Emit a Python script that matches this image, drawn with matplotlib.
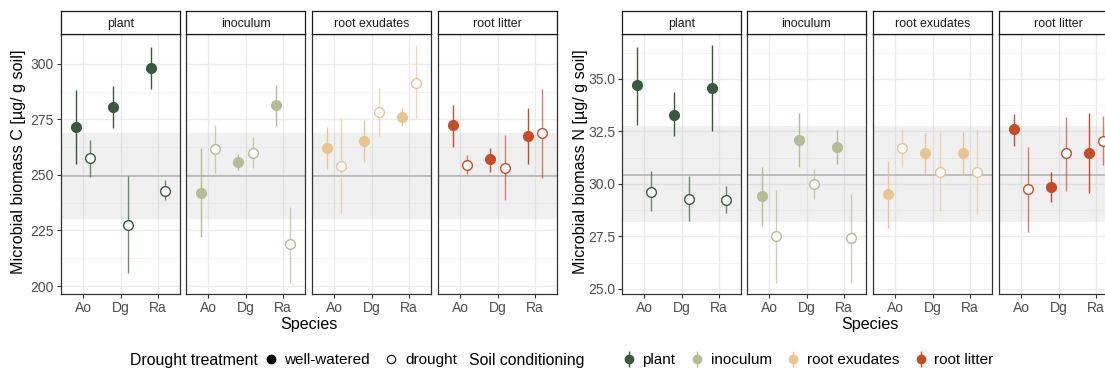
import numpy as np
import matplotlib
matplotlib.use("Agg")
import matplotlib.pyplot as plt
from matplotlib.lines import Line2D

plt.rcParams['font.family'] = ['Liberation Sans', 'DejaVu Sans']

species = ["Ao", "Dg", "Ra"]
conditions = ["plant", "inoculum", "root exudates", "root litter"]
colors = ["#385a3c", "#b3bd93", "#e9c68f", "#c84b25"]

# microbial biomass C: rows = soil conditioning, cols = species
c_ww = [[271.8, 280.6, 298.2], [242.0, 256.0, 281.5], [262.3, 265.2, 276.3], [272.4, 257.1, 267.6]]
c_ww_lo = [[254.8, 271.0, 288.6], [222.2, 252.1, 272.1], [252.6, 256.0, 272.2], [262.8, 251.5, 254.8]]
c_ww_hi = [[288.3, 290.1, 307.7], [262.3, 259.3, 290.5], [271.8, 274.8, 280.0], [281.4, 262.2, 280.3]]
c_dr = [[257.8, 227.5, 242.9], [261.7, 260.1, 218.8], [254.2, 278.4, 291.6], [254.7, 253.3, 268.8]]
c_dr_lo = [[249.2, 205.7, 238.6], [250.8, 253.0, 201.5], [232.7, 267.6, 275.1], [250.3, 238.7, 248.5]]
c_dr_hi = [[265.6, 249.5, 247.7], [272.7, 267.0, 235.7], [275.8, 289.3, 308.1], [259.0, 268.0, 288.9]]
c_ref = [230.2, 249.5, 268.9]   # low, mean, high of reference band

# microbial biomass N
n_ww = [[34.70, 33.30, 34.55], [29.43, 32.09, 31.77], [29.52, 31.48, 31.48], [32.61, 29.86, 31.48]]
n_ww_lo = [[32.83, 32.28, 32.52], [28.01, 30.83, 30.96], [27.91, 30.54, 30.48], [31.82, 29.16, 29.55]]
n_ww_hi = [[36.50, 34.38, 36.61], [30.83, 33.39, 32.55], [31.11, 32.42, 32.47], [33.34, 30.56, 33.39]]
n_dr = [[29.62, 29.30, 29.25], [27.53, 30.02, 27.44], [31.72, 30.59, 30.56], [29.76, 31.45, 32.05]]
n_dr_lo = [[28.71, 28.25, 28.63], [25.30, 29.30, 25.29], [30.83, 28.73, 28.55], [27.72, 29.67, 30.88]]
n_dr_hi = [[30.61, 30.38, 29.90], [29.73, 30.70, 29.54], [32.64, 32.47, 32.61], [31.77, 33.17, 33.22]]
n_ref = [28.2, 30.45, 32.75]

W, H = 1105, 370
fig = plt.figure(figsize=(W / 100, H / 100), dpi=100)

def px_axes(x0, x1, y0, y1):
    # pixel box (top-left origin) -> figure fraction
    return fig.add_axes([x0 / W, (H - y1) / H, (x1 - x0) / W, (y1 - y0) / H])

def draw_block(xoff, ww, ww_lo, ww_hi, dr, dr_lo, dr_hi, ref, ylim, major, minor, ylabel, fmt):
    panel_x = [61, 186, 312, 438]
    pw = 119
    x = np.arange(len(species))
    d = 0.19
    for k, cond in enumerate(conditions):
        x0 = panel_x[k] + xoff
        ax = px_axes(x0, x0 + pw, 34, 294)
        col = colors[k]
        ax.axhspan(ref[0], ref[2], color="#7f7f7f", alpha=0.11, lw=0, zorder=1)
        ax.axhline(ref[1], color="#b0b0b0", lw=1.1, zorder=1.5)
        ax.vlines(x - d, ww_lo[k], ww_hi[k], color=col, lw=1.0, zorder=3)
        ax.plot(x - d, ww[k], 'o', color=col, ms=7, zorder=4)
        ax.vlines(x + d, dr_lo[k], dr_hi[k], color=col, lw=1.0, alpha=0.7, zorder=3)
        ax.plot(x + d, dr[k], 'o', mfc="white", mec=col, mew=1.0, ms=7, zorder=4)
        ax.set_xlim(-0.6, 2.6)
        ax.set_ylim(*ylim)
        ax.set_xticks(x)
        ax.set_xticklabels(species)
        ax.set_yticks(major)
        ax.set_yticks(minor, minor=True)
        ax.grid(True, which="major", color="#ebebeb", lw=1.0, zorder=0)
        ax.grid(True, which="minor", axis="y", color="#f2f2f2", lw=0.6, zorder=0)
        ax.set_axisbelow(True)
        ax.tick_params(axis="both", which="major", length=3, width=0.8, color="#333333",
                       labelcolor="#4d4d4d", labelsize=10, pad=2)
        ax.tick_params(axis="y", which="minor", length=0)
        if k == 0:
            ax.set_yticklabels([fmt.format(v) for v in major])
        else:
            ax.tick_params(axis="y", which="both", left=False, labelleft=False)
        for s in ax.spines.values():
            s.set_color("#333333")
            s.set_linewidth(0.9)
        st = px_axes(x0, x0 + pw, 11, 34)
        st.set_xticks([])
        st.set_yticks([])
        st.set_facecolor("white")
        for s in st.spines.values():
            s.set_color("#1a1a1a")
            s.set_linewidth(0.9)
        st.text(0.5, 0.45, cond, ha="center", va="center", fontsize=8.9, color="#1a1a1a",
                transform=st.transAxes)
    fig.text((19 + xoff) / W, (H - 162) / H, ylabel, rotation=90, ha="center", va="center",
             fontsize=11.6)
    fig.text((309 + xoff) / W, (H - 325) / H, "Species", ha="center", va="center", fontsize=11.6)

draw_block(0, c_ww, c_ww_lo, c_ww_hi, c_dr, c_dr_lo, c_dr_hi, c_ref, (196.4, 313.5),
           [200, 225, 250, 275, 300], [212.5, 237.5, 262.5, 287.5],
           "Microbial biomass C [µg/ g soil]", "{:.0f}")
draw_block(561, n_ww, n_ww_lo, n_ww_hi, n_dr, n_dr_lo, n_dr_hi, n_ref, (24.76, 37.14),
           [25.0, 27.5, 30.0, 32.5, 35.0], [26.25, 28.75, 31.25, 33.75, 36.25],
           "Microbial biomass N [µg/ g soil]", "{:.1f}")

# legends
ly = (H - 360) / H
fig.text(130 / W, ly, "Drought treatment", ha="left", va="center", fontsize=11.4)
h_drought = [Line2D([], [], ls="", marker="o", color="black", ms=6),
             Line2D([], [], ls="", marker="o", mfc="white", mec="black", mew=0.8, ms=6)]
fig.legend(h_drought, ["well-watered", "drought"], loc="center left",
           bbox_to_anchor=(263 / W, ly), ncol=2, frameon=False, fontsize=11,
           handlelength=1.0, handletextpad=0.4, columnspacing=0.9, borderpad=0, borderaxespad=0)

fig.text(469 / W, ly, "Soil conditioning", ha="left", va="center", fontsize=11.4)
h_soil = [(Line2D([], [], ls="", marker="|", color=c, ms=11, mew=1.0),
           Line2D([], [], ls="", marker="o", color=c, ms=6)) for c in colors]
fig.legend(h_soil, conditions, loc="center left", bbox_to_anchor=(621 / W, ly), ncol=4,
           frameon=False, fontsize=11, handlelength=1.0, handletextpad=0.4,
           columnspacing=0.9, borderpad=0, borderaxespad=0)

fig.savefig("out.png", dpi=100)
